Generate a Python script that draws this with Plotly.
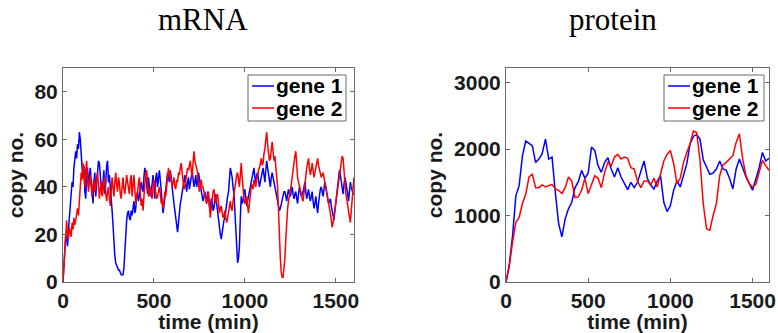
import plotly.graph_objects as go

# ---- data -----------------------------------------------------------------
# mRNA copy numbers every 5 min (each row covers 50 min), 0 .. 1600 min
mrna_gene1 = [
    0, 8, 14, 20, 18, 15, 22, 26, 30, 37,
    42, 40, 48, 52, 55, 52, 58, 56, 63, 60,
    52, 48, 44, 49, 38, 35, 45, 48, 40, 44,
    48, 42, 38, 33, 42, 46, 36, 40, 47, 51,
    50, 44, 40, 37, 44, 47, 37, 41, 49, 51,
    42, 45, 40, 36, 30, 24, 16, 11, 8, 7,
    6, 5, 5, 4, 3, 3, 3, 6, 14, 20,
    26, 29, 30, 27, 26, 30, 28, 31, 34, 29,
    31, 36, 38, 34, 36, 40, 42, 39, 38, 44,
    48, 45, 40, 37, 44, 41, 36, 39, 41, 45,
    38, 35, 44, 46, 40, 44, 47, 43, 38, 32,
    29, 32, 35, 39, 41, 46, 44, 42, 47, 43,
    38, 36, 33, 30, 26, 23, 21, 25, 30, 33,
    35, 38, 40, 43, 45, 41, 38, 42, 44, 39,
    41, 44, 47, 43, 40, 42, 45, 40, 42, 46,
    43, 40, 39, 36, 34, 37, 38, 35, 33, 38,
    36, 32, 30, 35, 34, 30, 31, 35, 37, 33,
    29, 27, 24, 20, 18, 21, 24, 26, 27, 31,
    33, 36, 38, 44, 48, 46, 44, 40, 37, 30,
    20, 13, 8, 10, 15, 27, 36, 33, 34, 38,
    39, 35, 32, 34, 36, 39, 40, 43, 45, 47,
    48, 44, 42, 45, 46, 43, 40, 42, 44, 47,
    48, 45, 42, 47, 51, 48, 45, 42, 40, 44,
    46, 44, 42, 39, 37, 35, 34, 32, 30, 31,
    33, 35, 36, 38, 38, 35, 34, 37, 39, 37,
    36, 38, 40, 37, 35, 37, 38, 35, 33, 37,
    40, 38, 36, 37, 38, 40, 42, 38, 35, 37,
    39, 36, 34, 36, 38, 34, 31, 33, 36, 32,
    29, 33, 37, 39, 40, 38, 36, 39, 42, 40,
    38, 35, 33, 34, 35, 32, 30, 28, 26, 30,
    34, 37, 40, 44, 47, 45, 42, 39, 37, 41,
    44, 42, 40, 37, 34, 38, 42, 40, 38, 37,
    37,
]
mrna_gene2 = [
    0, 6, 13, 22, 26, 20, 18, 23, 21, 19,
    25, 22, 27, 24, 26, 29, 31, 28, 36, 41,
    46, 43, 50, 45, 40, 47, 51, 44, 38, 42,
    45, 40, 36, 41, 43, 38, 40, 44, 46, 41,
    35, 39, 42, 36, 38, 43, 44, 37, 34, 38,
    40, 35, 32, 38, 44, 40, 36, 42, 46, 41,
    38, 44, 42, 37, 35, 40, 44, 39, 37, 41,
    45, 42, 40, 37, 43, 45, 36, 40, 45, 39,
    33, 36, 38, 42, 44, 37, 32, 35, 30, 36,
    42, 46, 47, 40, 36, 39, 40, 37, 35, 40,
    43, 40, 38, 35, 36, 39, 40, 37, 33, 35,
    31, 34, 38, 36, 41, 45, 48, 44, 46, 43,
    40, 42, 44, 40, 39, 43, 42, 46, 45, 48,
    50, 46, 42, 39, 40, 43, 45, 48, 47, 50,
    51, 47, 44, 50, 55, 51, 49, 47, 46, 41,
    38, 41, 43, 40, 40, 38, 36, 34, 33, 36,
    38, 32, 27, 31, 35, 38, 39, 35, 33, 36,
    37, 33, 29, 31, 32, 29, 27, 28, 30, 27,
    25, 27, 29, 32, 34, 31, 30, 34, 37, 40,
    43, 45, 46, 42, 40, 45, 50, 44, 38, 35,
    33, 35, 36, 32, 29, 33, 38, 40, 41, 39,
    43, 41, 40, 43, 46, 47, 48, 50, 52, 49,
    50, 54, 56, 60, 63, 58, 54, 51, 52, 56,
    59, 55, 51, 53, 49, 45, 40, 30, 18, 10,
    4, 2, 2, 5, 10, 18, 26, 31, 34, 36,
    38, 41, 44, 48, 50, 53, 55, 49, 44, 42,
    40, 38, 36, 35, 34, 38, 42, 45, 48, 50,
    52, 48, 45, 47, 50, 47, 44, 46, 48, 50,
    52, 49, 47, 45, 44, 45, 46, 44, 42, 40,
    38, 35, 33, 31, 29, 26, 23, 25, 28, 31,
    34, 36, 38, 42, 45, 48, 51, 53, 52, 46,
    40, 37, 35, 32, 30, 27, 25, 30, 36, 40,
    44,
]
t_mrna = [5 * i for i in range(len(mrna_gene1))]

# protein copy numbers every 20 min, 0 .. 1600 min
t_protein = list(range(0, 1601, 20))
protein_gene1 = [
    0, 260, 700, 1300, 1450, 1900, 2120, 2080, 2050, 1800, 1850, 1930, 2150, 1850,
    1880, 1350, 880, 680, 950, 1100, 1200, 1420, 1510, 1680, 1560, 1640, 2030, 1980,
    1750, 1650, 1800, 1870, 1700, 1580, 1720, 1580, 1480, 1390, 1500, 1420, 1500,
    1650, 1820, 1560, 1460, 1400, 1520, 1600, 1200, 1060, 1150, 1380, 1520, 1430,
    1620, 1780, 2080, 2190, 2220, 2150, 1840, 1720, 1620, 1640, 1700, 1820, 1700,
    1680, 1560, 1400, 1700, 1850, 1700, 1580, 1480, 1380, 1550, 1720, 1950, 1820,
    1860,
]
protein_gene2 = [
    0, 240, 600, 900, 970, 1180, 1320, 1580, 1620, 1420, 1420, 1460, 1430, 1450,
    1470, 1400, 1380, 1330, 1420, 1580, 1520, 1270, 1280, 1380, 1560, 1330, 1480,
    1600, 1560, 1420, 1650, 1800, 1750, 1880, 1920, 1850, 1880, 1860, 1720, 1700,
    1520, 1420, 1520, 1520, 1460, 1560, 1430, 1620, 1820, 1920, 1980, 1780, 1480,
    1560, 1800, 1950, 2080, 2270, 2250, 1840, 1180, 800, 780, 1000, 1180, 1600,
    1760, 1800, 1850, 1900, 2100, 2230, 1850, 1600, 1480, 1430, 1470, 1650, 1830,
    1750, 1680,
]

series_names = ["gene 1", "gene 2"]
panel_titles = ["mRNA", "protein"]
x_ticks = [0, 500, 1000, 1500]
mrna_ticks = [0, 20, 40, 60, 80]
protein_ticks = [0, 1000, 2000, 3000]

# ---- figure -------------------------------------------------------------
W, H = 778, 333
COLORS = ["#0000ff", "#ff0000"]
INK = "#1a1a1a"
AXIS = "#6a6a6a"
SANS = "Liberation Sans"
LW = 1.5


def px_x(p):
    return p / W


def px_y(p):
    return 1 - p / H


fig = go.Figure()

panels = [
    ("x", "y", t_mrna, [mrna_gene1, mrna_gene2]),
    ("x2", "y2", t_protein, [protein_gene1, protein_gene2]),
]
for xa, ya, tt, ys in panels:
    for name, vals, col in zip(series_names, ys, COLORS):
        fig.add_trace(go.Scatter(x=tt, y=vals, name=name, mode="lines",
                                 line=dict(color=col, width=LW),
                                 xaxis=xa, yaxis=ya, showlegend=False))

tick_font = dict(family=SANS, size=21, color=INK, weight="bold")
title_font = dict(family=SANS, size=21, color=INK, weight="bold")


def axis_common():
    return dict(showline=True, linecolor=AXIS, linewidth=1, mirror="ticks",
                ticks="inside", ticklen=4, tickcolor=AXIS, showgrid=False,
                zeroline=False, tickfont=tick_font, automargin=False)


ydom = [px_y(282), px_y(68)]

fig.update_layout(
    width=W, height=H,
    margin=dict(l=0, r=0, t=0, b=0),
    paper_bgcolor="white", plot_bgcolor="white",
    showlegend=False,
    xaxis=dict(domain=[px_x(63), px_x(354)], range=[0, 1600], tickvals=x_ticks,
               anchor="y", title=dict(text="time (min)", font=title_font, standoff=4),
               **axis_common()),
    yaxis=dict(domain=ydom, range=[0, 90], tickvals=mrna_ticks, anchor="x",
               title=dict(text="copy no.", font=title_font, standoff=5),
               **axis_common()),
    xaxis2=dict(domain=[px_x(506), px_x(769)], range=[0, 1600], tickvals=x_ticks,
                anchor="y2", title=dict(text="time (min)", font=title_font, standoff=4),
                **axis_common()),
    yaxis2=dict(domain=ydom, range=[0, 3220], tickvals=protein_ticks, anchor="x2",
                title=dict(text="copy no.", font=title_font, standoff=5),
                **axis_common()),
)

# legend boxes in the upper-right corner of each panel
legend_boxes = [(248, 346), (664, 764)]
legend_top, legend_bottom = 75, 121
row_y = [86, 108]
for x0, x1 in legend_boxes:
    fig.add_shape(type="rect", xref="paper", yref="paper",
                  x0=px_x(x0), x1=px_x(x1), y0=px_y(legend_bottom), y1=px_y(legend_top),
                  line=dict(color=AXIS, width=1), fillcolor="white", layer="above")
    for name, col, ry in zip(series_names, COLORS, row_y):
        fig.add_shape(type="line", xref="paper", yref="paper",
                      x0=px_x(x0 + 4), x1=px_x(x0 + 26), y0=px_y(ry), y1=px_y(ry),
                      line=dict(color=col, width=LW), layer="above")
        fig.add_annotation(text=name, x=px_x(x0 + 26), y=px_y(ry), xref="paper",
                           yref="paper", xanchor="left", yanchor="middle",
                           showarrow=False,
                           font=dict(family=SANS, size=21, color="black", weight="bold"))

for text, cx in zip(panel_titles, [203, 613]):
    fig.add_annotation(text=text, x=px_x(cx), y=px_y(20), xref="paper", yref="paper",
                       xanchor="center", yanchor="middle", showarrow=False,
                       font=dict(family="Liberation Serif", size=31, color="black"))

fig.write_html("out.html")
